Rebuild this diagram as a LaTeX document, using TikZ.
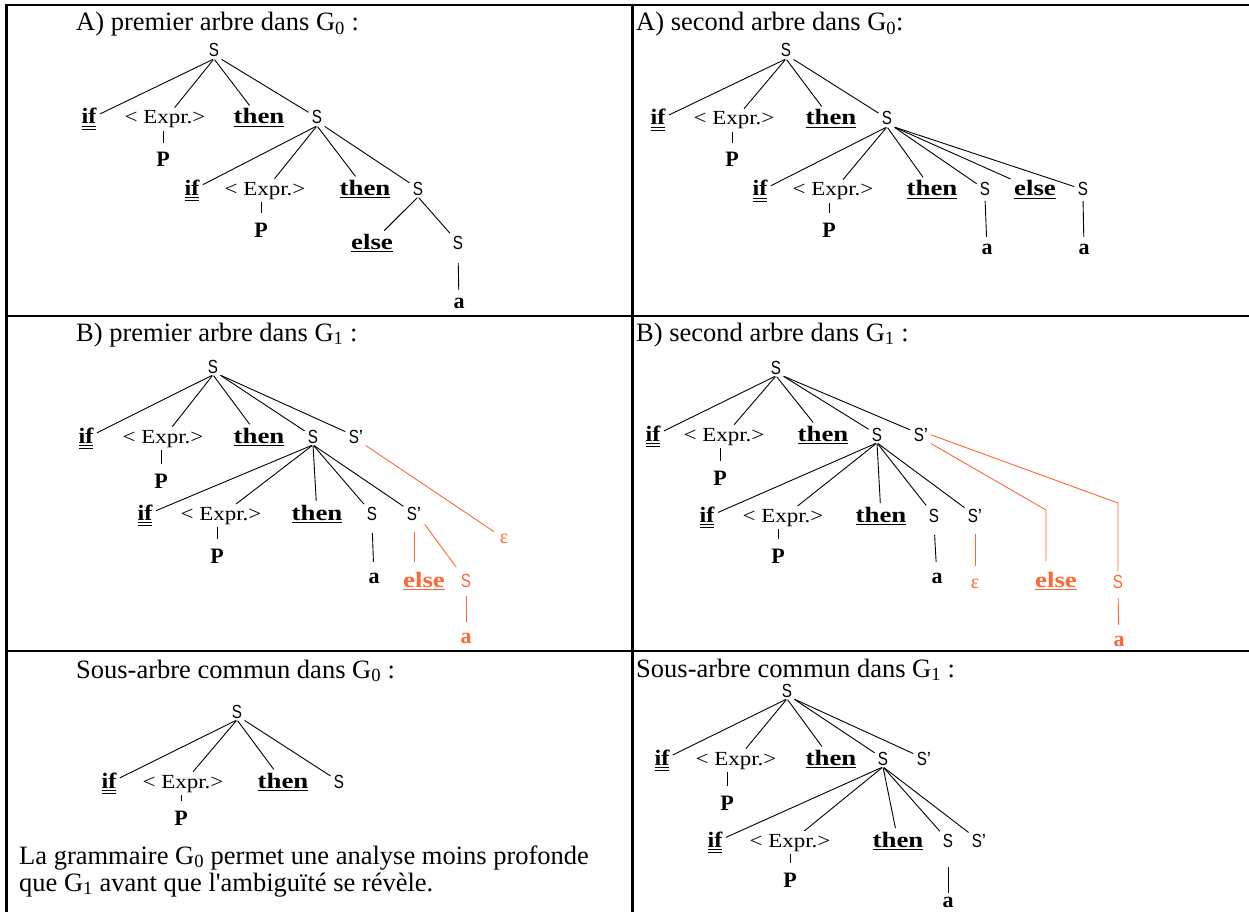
\documentclass[tikz,border=0pt]{standalone}
\usepackage{fontspec}
\setmainfont{Liberation Serif}
\setsansfont{Liberation Sans}
\newfontfamily\plainrm{Liberation Serif}
\usepackage{graphicx}
\definecolor{orng}{RGB}{255,102,51}
\newcommand\symS{\scalebox{0.8}[1]{S}}
\newcommand\symSp{\scalebox{0.8}[1]{S}’}
\newcommand\kwd[1]{\setbox0\hbox{\scalebox{1.22}[1]{#1}}\rlap{\rule[-3pt]{\wd0}{1.4pt}}\box0}
\newcommand\kwif{\setbox0\hbox{\scalebox{1.1}[1]{if}}\rlap{\rule[-3pt]{\wd0}{1.3pt}}\rlap{\rule[-6pt]{\wd0}{1.3pt}}\box0}
\newcommand\exprlbl{\scalebox{1.15}[1]{< Expr.>}}
\tikzset{
  ttl/.style={anchor=base west, inner sep=0pt, font=\fontsize{26.5}{31}\selectfont},
  tn/.style={anchor=base, inner sep=1.5pt},
  nS/.style={tn, font=\sffamily\fontsize{19}{20}\selectfont},
  nE/.style={tn, font=\fontsize{20}{22}\selectfont},
  nK/.style={tn, font=\bfseries\fontsize{22}{24}\selectfont},
  oc/.style={text=orng},
  ed/.style={line width=0.9pt, shorten <=1pt, shorten >=2pt},
  oed/.style={ed, draw=orng},
  tablerule/.style={line width=2.3pt},
}
\begin{document}
\begin{tikzpicture}[x=1pt,y=-1pt]
\useasboundingbox (0,0) rectangle (1249,912);
% table
\draw[tablerule] (6.5,5) -- (1249,5);
\draw[tablerule] (6.5,3.85) -- (6.5,912);
\draw[tablerule] (632.5,5) -- (632.5,912);
\draw[tablerule] (6.5,316) -- (1249,316);
\draw[tablerule] (6.5,651) -- (1249,651);

% ---------- A1 ----------
\node[ttl] (A1t) at (76,31) {A) premier arbre dans G\textsubscript{0} :};
\node[nS] (A1r) at (214,57) {\symS};
\node[nK] (A1i1) at (89,124) {\kwif};
\node[nE] (A1e1) at (165,124) {\exprlbl};
\node[nK] (A1t1) at (259,124) {\kwd{then}};
\node[nS] (A1s1) at (317,124) {\symS};
\node[nK] (A1p1) at (163,167) {P};
\node[nK] (A1i2) at (192,195) {\kwif};
\node[nE] (A1e2) at (265,195) {\exprlbl};
\node[nK] (A1t2) at (365,195) {\kwd{then}};
\node[nS] (A1s2) at (418,195) {\symS};
\node[nK] (A1p2) at (261,237) {P};
\node[nK] (A1el) at (372,249) {\kwd{else}};
\node[nS] (A1s3) at (458,249) {\symS};
\node[nK] (A1a) at (459,308) {a};
\foreach \c in {i1,e1,t1} \draw[ed] (A1r.south) -- (A1\c);
\draw[ed] (A1r.south east) -- (A1s1);
\foreach \c in {i2,e2,t2} \draw[ed] (A1s1.south) -- (A1\c);
\draw[ed] (A1s1.south east) -- (A1s2);
\foreach \c in {el,s3} \draw[ed] (A1s2.south) -- (A1\c);
\draw[ed,shorten >=8pt] (A1p1 |- A1e1.south) -- (A1p1);
\draw[ed,shorten >=8pt] (A1p2 |- A1e2.south) -- (A1p2);
\draw[ed,shorten <=12pt,shorten >=6pt] (A1s3.south) -- (A1a);

% ---------- A2 ----------
\node[ttl] (A2t) at (636,31) {A) second arbre dans G\textsubscript{0}:};
\node[nS] (A2r) at (786,57) {\symS};
\node[nK] (A2i1) at (658,125) {\kwif};
\node[nE] (A2e1) at (734,125) {\exprlbl};
\node[nK] (A2t1) at (831,125) {\kwd{then}};
\node[nS] (A2s1) at (887,125) {\symS};
\node[nK] (A2p1) at (732,167) {P};
\node[nK] (A2i2) at (760,196) {\kwif};
\node[nE] (A2e2) at (833,196) {\exprlbl};
\node[nK] (A2t2) at (932,196) {\kwd{then}};
\node[nS] (A2s2) at (985,196) {\symS};
\node[nK] (A2el) at (1035,196) {\kwd{else}};
\node[nS] (A2s3) at (1083,196) {\symS};
\node[nK] (A2p2) at (829,237) {P};
\node[nK] (A2a1) at (987,254) {a};
\node[nK] (A2a2) at (1084,254) {a};
\foreach \c in {i1,e1,t1} \draw[ed] (A2r.south) -- (A2\c);
\draw[ed] (A2r.south east) -- (A2s1);
\foreach \c in {i2,e2,t2} \draw[ed] (A2s1.south) -- (A2\c);
\foreach \c in {s2,el,s3} \draw[ed] (A2s1.south east) -- (A2\c);
\draw[ed,shorten >=8pt] (A2p1 |- A2e1.south) -- (A2p1);
\draw[ed,shorten >=8pt] (A2p2 |- A2e2.south) -- (A2p2);
\draw[ed,shorten <=3pt,shorten >=5pt] (A2s2.south) -- (A2a1);
\draw[ed,shorten <=3pt,shorten >=5pt] (A2s3.south) -- (A2a2);

% ---------- B1 ----------
\node[ttl] (B1t) at (76,341) {B) premier arbre dans G\textsubscript{1} :};
\node[nS] (B1r) at (213,373) {\symS};
\node[nK] (B1i1) at (86,443) {\kwif};
\node[nE] (B1e1) at (163,443) {\exprlbl};
\node[nK] (B1t1) at (259,443) {\kwd{then}};
\node[nS] (B1s1) at (313,443) {\symS};
\node[nS] (B1q1) at (356,443) {\symSp};
\node[nK] (B1p1) at (161,488) {P};
\node[nK] (B1i2) at (145,520) {\kwif};
\node[nE] (B1e2) at (221,520) {\exprlbl};
\node[nK] (B1t2) at (317,520) {\kwd{then}};
\node[nS] (B1s2) at (372,520) {\symS};
\node[nS] (B1q2) at (414,520) {\symSp};
\node[nK] (B1p2) at (217,563) {P};
\node[nE,oc] (B1eps) at (504,543) {ε};
\node[nK] (B1a) at (374,583) {a};
\node[nK,oc] (B1el) at (424,587) {\kwd{else}};
\node[nS,oc] (B1s3) at (466,587) {\symS};
\node[nK,oc] (B1a2) at (466,643) {a};
\foreach \c in {i1,e1,t1} \draw[ed] (B1r.south) -- (B1\c);
\foreach \c in {s1,q1} \draw[ed] (B1r.south east) -- (B1\c);
\foreach \c in {i2,e2,t2,s2,q2} \draw[ed] (B1s1.south) -- (B1\c);
\draw[ed,shorten >=8pt] (B1p1 |- B1e1.south) -- (B1p1);
\draw[ed,shorten >=8pt] (B1p2 |- B1e2.south) -- (B1p2);
\draw[ed,shorten <=11pt,shorten >=9pt] (B1s2.south) -- (B1a);
\draw[oed,shorten >=5pt] (B1q1.south east) -- (B1eps);
\draw[oed,shorten <=10pt,shorten >=8pt] (B1q2.south) -- (B1q2.south |- B1el.north);
\draw[oed,shorten <=3pt,shorten >=6pt] (B1q2.south east) -- (B1s3);
\draw[oed,shorten <=7pt,shorten >=9pt] (B1s3.south) -- (B1a2);

% ---------- B2 ----------
\node[ttl] (B2t) at (636,341) {B) second arbre dans G\textsubscript{1} :};
\node[nS] (B2r) at (776,374) {\symS};
\node[nK] (B2i1) at (653,441) {\kwif};
\node[nE] (B2e1) at (724,441) {\exprlbl};
\node[nK] (B2t1) at (823,441) {\kwd{then}};
\node[nS] (B2s1) at (877,441) {\symS};
\node[nS] (B2q1) at (921,441) {\symSp};
\node[nK] (B2p1) at (720,485) {P};
\node[nK] (B2i2) at (707,522) {\kwif};
\node[nE] (B2e2) at (783,522) {\exprlbl};
\node[nK] (B2t2) at (881,522) {\kwd{then}};
\node[nS] (B2s2) at (934,522) {\symS};
\node[nS] (B2q2) at (975,522) {\symSp};
\node[nK] (B2p2) at (778,563) {P};
\node[nK] (B2a) at (937,583) {a};
\node[nE,oc] (B2eps) at (975,588) {ε};
\node[nK,oc] (B2el) at (1056,587) {\kwd{else}};
\node[nS,oc] (B2s3) at (1118,588) {\symS};
\node[nK,oc] (B2a2) at (1119,646) {a};
\coordinate (B2kE) at (1046,510);
\coordinate (B2kS) at (1118,503);
\foreach \c in {i1,e1,t1} \draw[ed] (B2r.south) -- (B2\c);
\foreach \c in {s1,q1} \draw[ed] (B2r.south east) -- (B2\c);
\foreach \c in {i2,e2,t2,s2,q2} \draw[ed] (B2s1.south) -- (B2\c);
\draw[ed,shorten >=8pt] (B2p1 |- B2e1.south) -- (B2p1);
\draw[ed,shorten >=8pt] (B2p2 |- B2e2.south) -- (B2p2);
\draw[ed,shorten <=11pt,shorten >=9pt] (B2s2.south) -- (B2a);
\draw[oed,shorten <=10pt,shorten >=11pt] (B2q2.south) -- (B2q2.south |- B2eps.north);
\draw[oed,shorten >=9pt] (B2q1.south east) -- (B2kE) -- (B2kE |- B2el.north);
\draw[oed] (B2q1.east) -- (B2kS) -- (B2kS |- B2s3.north);
\draw[oed,shorten <=8pt,shorten >=9pt] (B2s3.south) -- (B2a2);

% ---------- C1 ----------
\node[ttl] (C1t) at (76,678) {Sous-arbre commun dans G\textsubscript{0} :};
\node[nS] (C1r) at (237,718) {\symS};
\node[nK] (C1i1) at (109,788) {\kwif};
\node[nE] (C1e1) at (183,788) {\exprlbl};
\node[nK] (C1t1) at (283,788) {\kwd{then}};
\node[nS] (C1s1) at (339,788) {\symS};
\node[nK] (C1p1) at (181,825) {P};
\foreach \c in {i1,e1,t1} \draw[ed] (C1r.south) -- (C1\c);
\draw[ed] (C1r.south east) -- (C1s1);
\draw[ed,shorten >=8pt] (C1p1 |- C1e1.south) -- (C1p1);
\node[ttl] (C1x1) at (19,864) {La grammaire G\textsubscript{0} permet une analyse moins profonde};
\node[ttl] (C1x2) at (19,891) {que G\textsubscript{1} avant que l{\plainrm '}ambiguïté se révèle.};

% ---------- C2 ----------
\node[ttl] (C2t) at (636,677) {Sous-arbre commun dans G\textsubscript{1} :};
\node[nS] (C2r) at (787,697) {\symS};
\node[nK] (C2i1) at (662,765) {\kwif};
\node[nE] (C2e1) at (736,765) {\exprlbl};
\node[nK] (C2t1) at (831,765) {\kwd{then}};
\node[nS] (C2s1) at (883,765) {\symS};
\node[nS] (C2q1) at (924,765) {\symSp};
\node[nK] (C2p1) at (727,810) {P};
\node[nK] (C2i2) at (715,847) {\kwif};
\node[nE] (C2e2) at (790,847) {\exprlbl};
\node[nK] (C2t2) at (898,847) {\kwd{then}};
\node[nS] (C2s2) at (948,847) {\symS};
\node[nS] (C2q2) at (979,847) {\symSp};
\node[nK] (C2p2) at (790,887) {P};
\node[nK] (C2a) at (948,907) {a};
\foreach \c in {i1,e1,t1} \draw[ed] (C2r.south) -- (C2\c);
\foreach \c in {s1,q1} \draw[ed] (C2r.south east) -- (C2\c);
\foreach \c in {i2,e2,t2,s2,q2} \draw[ed] (C2s1.south) -- (C2\c);
\draw[ed,shorten >=8pt] (C2p1 |- C2e1.south) -- (C2p1);
\draw[ed,shorten >=8pt] (C2p2 |- C2e2.south) -- (C2p2);
\draw[ed,shorten <=18pt,shorten >=2pt] (C2s2.south) -- (C2a);
\end{tikzpicture}
\end{document}
